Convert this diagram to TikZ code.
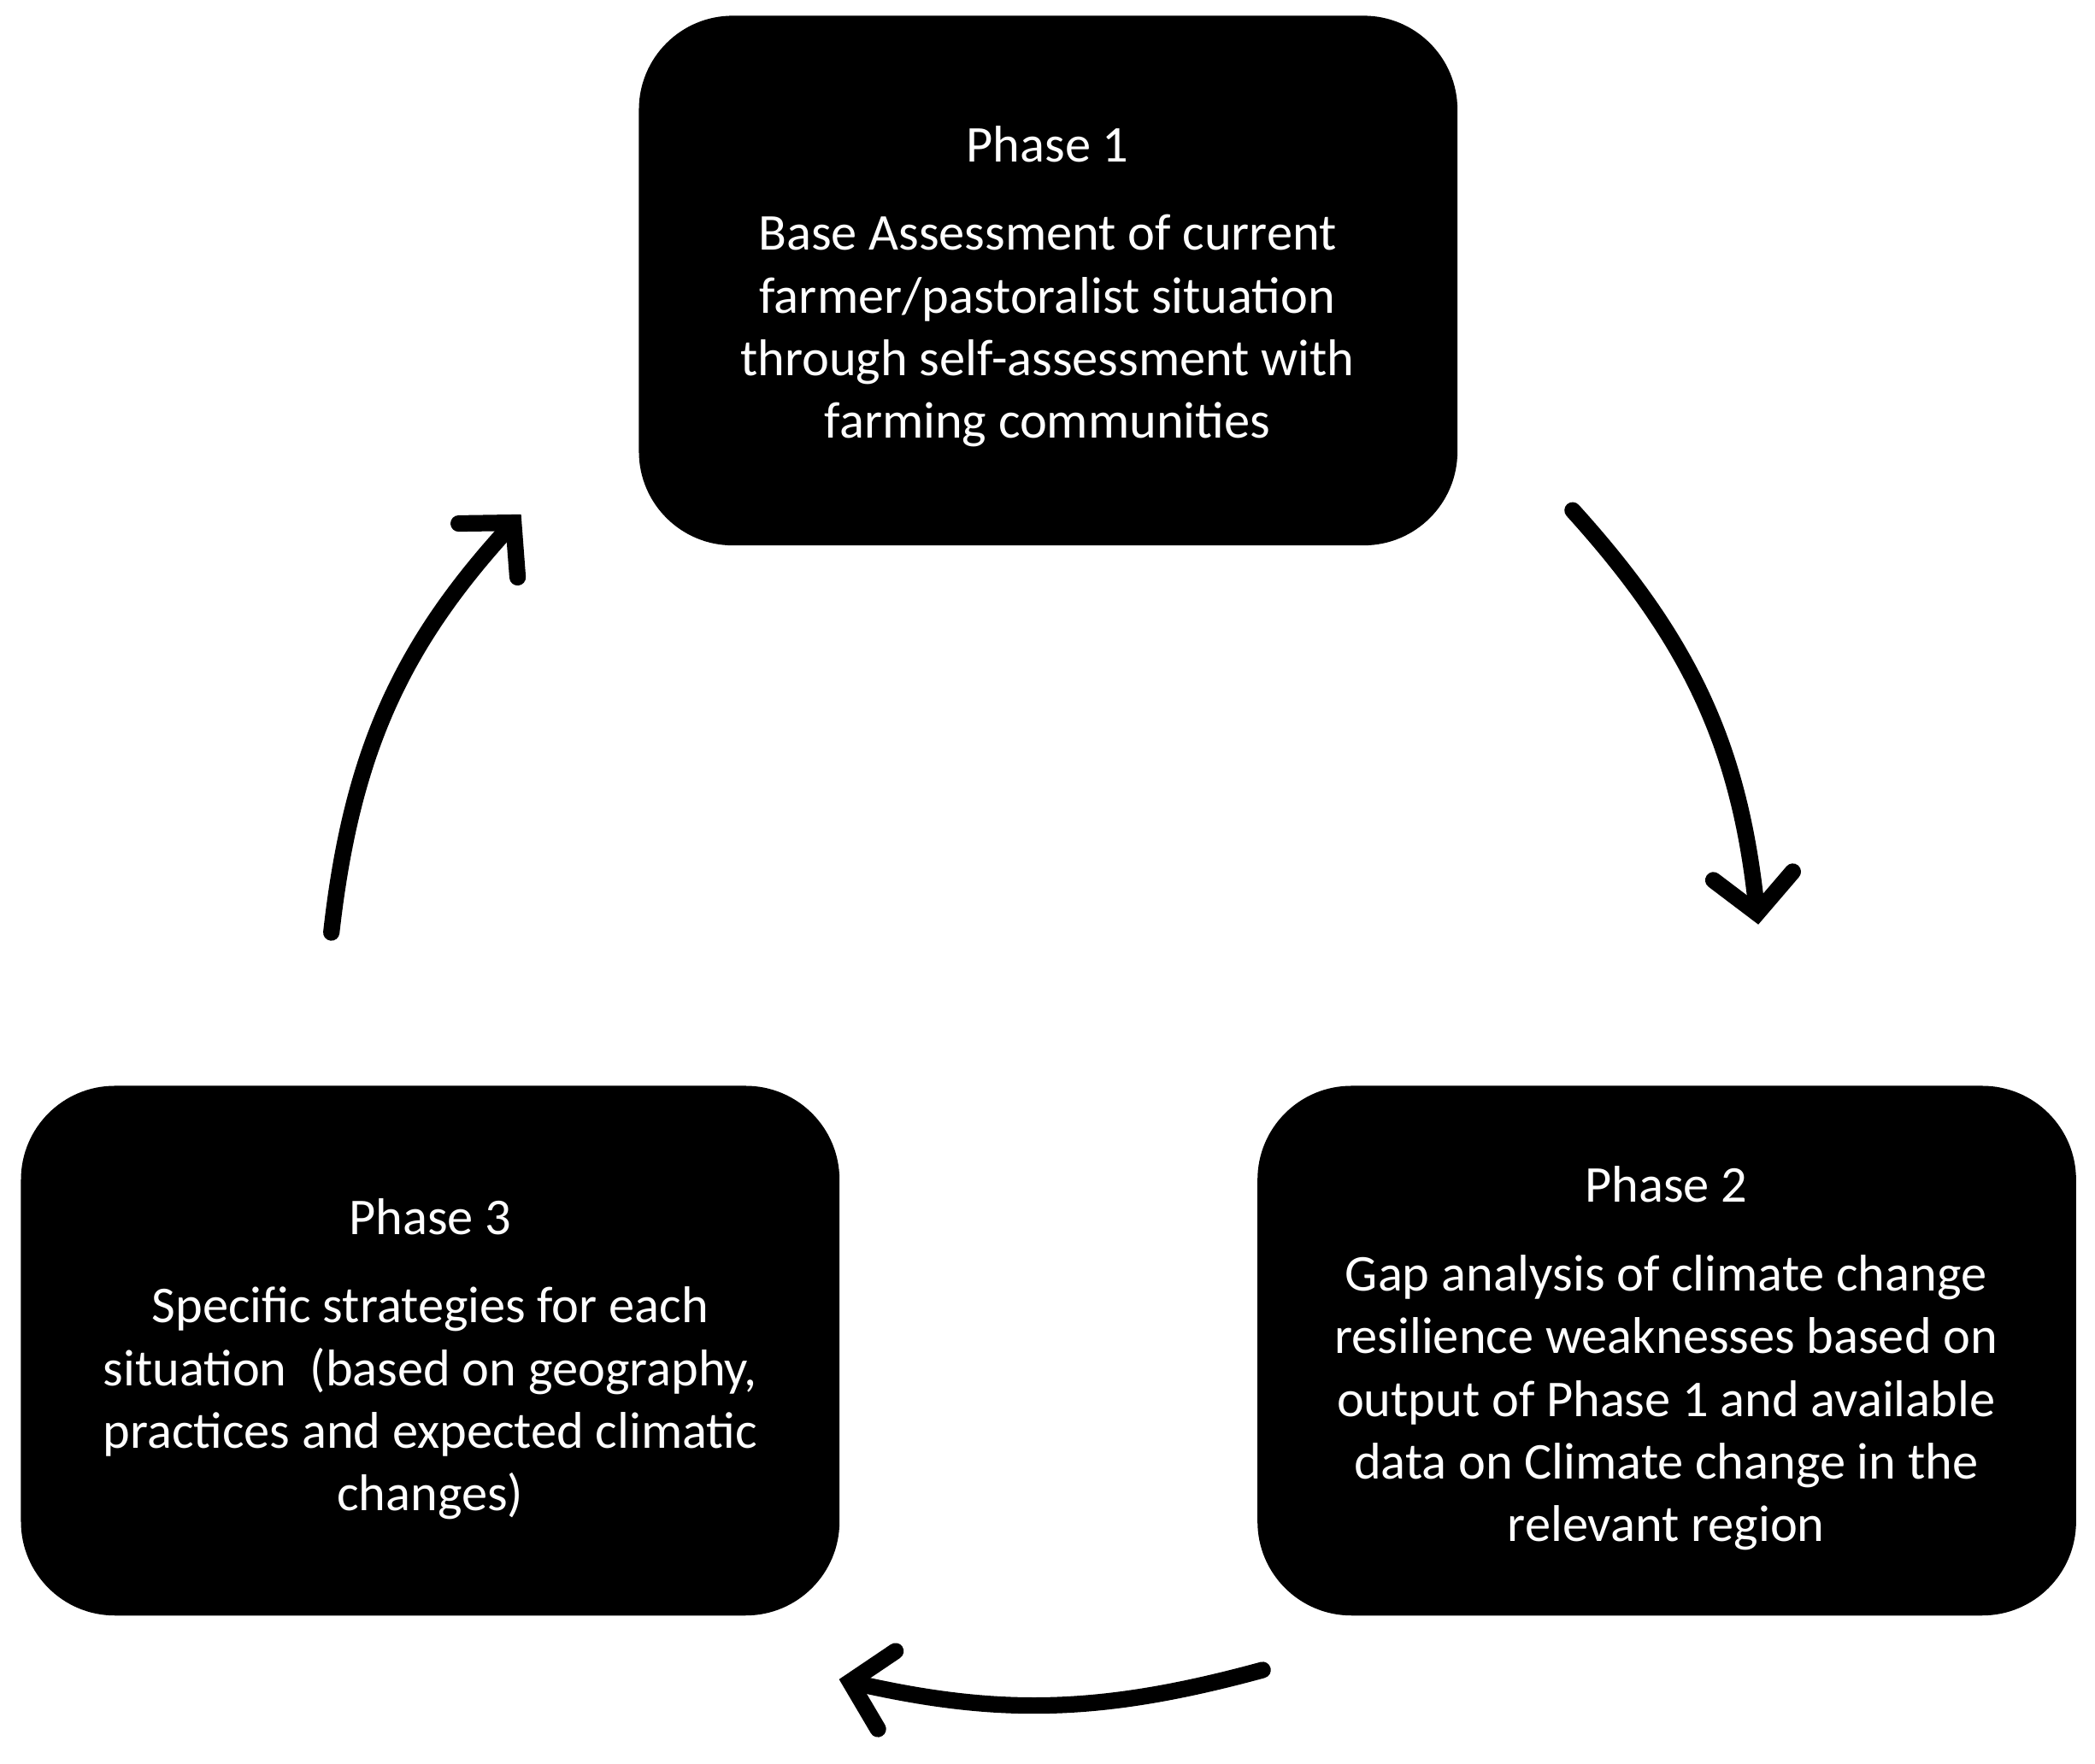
\documentclass[tikz,border=0pt]{standalone}
\usepackage{fontspec}
\setmainfont{Carlito}
\usetikzlibrary{arrows.meta}
\begin{document}
\begin{tikzpicture}[x=0.02cm,y=0.02cm,
 box/.style={fill=black,rounded corners=40pt,minimum width=615*0.567pt,minimum height=398*0.567pt,inner sep=0pt},
 txt/.style={text=white,align=center,font=\fontsize{22}{26.7}\selectfont},
 arr/.style={line width=7pt,line cap=round,-{Straight Barb[length=16pt,width=34pt,line cap=round,line width=7pt]}}]
\useasboundingbox (0,0) rectangle (1568,-1320);
\node[box] (b1) at (784.5,-210) {};
\node[box] (b2) at (1247.5,-1011) {};
\node[box] (b3) at (322,-1011) {};
\node[txt,anchor=north] (t1) at (784,-88) {Phase 1\\[11pt]Base Assessment of current\\farmer/pastoralist situation\\through self-assessment with\\farming communities};
\node[txt,anchor=north] (t2) at (1247,-867) {Phase 2\\[11pt]Gap analysis of climate change\\resilience weaknesses based on\\output of Phase 1 and available\\data on Climate change in the\\relevant region};
\node[txt,anchor=north] (t3) at (322,-891) {Phase 3\\[11pt]Specific strategies for each\\situation\ \ (based on geography,\\practices and expected climatic\\changes)};
\coordinate (a1s) at (1177,-382);
\coordinate (a1e) at (1316,-692);
\coordinate (a2s) at (945,-1250);
\coordinate (a2e) at (628,-1257);
\coordinate (a3s) at (248,-698);
\coordinate (a3e) at (390,-385);
\draw[arr] (a1s) to[bend left=18] (a1e);
\draw[arr] (a2s) to[bend left=14] (a2e);
\draw[arr] (a3s) to[bend left=18] (a3e);
\end{tikzpicture}
\end{document}
